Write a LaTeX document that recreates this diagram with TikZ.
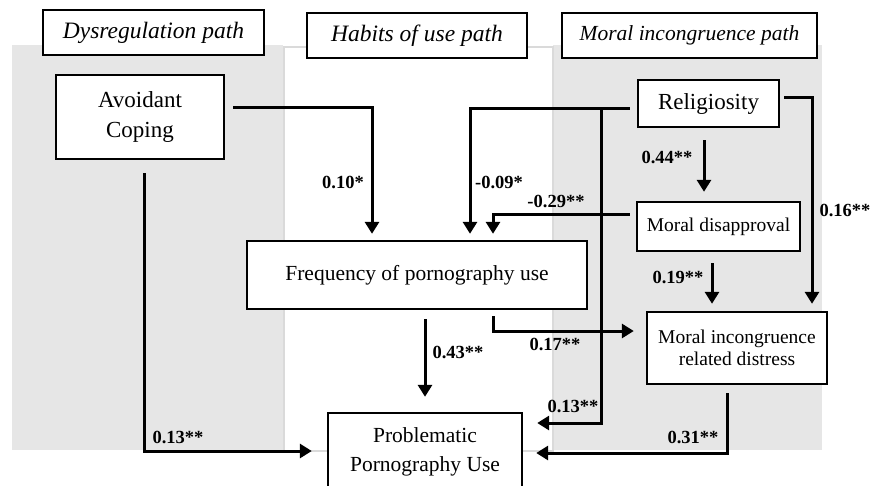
\documentclass[tikz,border=0pt]{standalone}
\usepackage{fontspec}
\setmainfont{Liberation Serif}
\usetikzlibrary{arrows.meta}
\definecolor{panelgray}{HTML}{E6E6E6}
\definecolor{panelline}{HTML}{DADADA}
\begin{document}
\begin{tikzpicture}[x=1pt,y=-1pt,
  box/.style={draw, line width=2.4pt, fill=white, align=center, inner sep=0pt},
  hdr/.style={draw, line width=1.6pt, fill=white, inner sep=0pt, minimum height=45pt},
  arr/.style={line width=3pt, -{Triangle[length=12pt,width=14pt]}},
  lbl/.style={font=\bfseries\fontsize{18.5pt}{20pt}\selectfont, inner sep=0pt},
  bigtxt/.style={font=\fontsize{23pt}{30pt}\selectfont},
  midtxt/.style={font=\fontsize{21.5pt}{29pt}\selectfont},
  smalltxt/.style={font=\fontsize{19.5pt}{22pt}\selectfont}]
\clip (0,0) rectangle (870,485);
\fill[white] (0,0) rectangle (870,485);
% panels
\fill[panelgray] (12,45) rectangle (283,450);
\fill[panelgray] (553,45) rectangle (822,450);
\draw[panelline, line width=1.5pt, fill=white] (284,47) rectangle (553,451);
% headers
\node[hdr, minimum width=221, font=\itshape\fontsize{23.5pt}{26pt}\selectfont] (h1) at (153.5,32.5) {Dysregulation path};
\node[hdr, minimum width=220, font=\itshape\fontsize{23.5pt}{26pt}\selectfont] (h2) at (417,35.5) {Habits of use path};
\node[hdr, minimum width=255, font=\itshape\fontsize{21.5pt}{24pt}\selectfont] (h3) at (689.5,35.5) {Moral incongruence path};
% nodes
\node[box, bigtxt, minimum width=168, minimum height=84] (ac) at (140,117) {Avoidant\\Coping};
\node[box, bigtxt, minimum width=141, minimum height=47] (rel) at (708.5,103.5) {Religiosity};
\node[box, smalltxt, minimum width=163, minimum height=49] (md) at (718.5,226.5) {Moral disapproval};
\node[box, midtxt, minimum width=340, minimum height=68] (freq) at (417,275) {Frequency of pornography use};
\node[box, smalltxt, minimum width=180, minimum height=72] (mird) at (737,348) {Moral incongruence\\related distress};
\node[box, midtxt, minimum width=194, minimum height=78] (ppu) at (425,452) {Problematic\\Pornography Use};
% connectors
\draw[arr] ([shift={(8pt,10pt)}]ac.east) -| ([shift={(-45pt,6pt)}]freq.north);
\draw[arr] ([shift={(4pt,-13pt)}]ac.south) |- ([shift={(-15pt,1pt)}]ppu.west);
\draw[arr] ([shift={(-7pt,-4.5pt)}]rel.west) -| ([shift={(53pt,6pt)}]freq.north);
\draw[arr] ([shift={(-7pt,-4.5pt)}]rel.west) -- ++(-28pt,0pt) |- ([shift={(14pt,29pt)}]ppu.east);
\draw[arr] ([shift={(-6pt,12.5pt)}]md.west) -| ([shift={(76pt,6pt)}]freq.north);
\draw[arr] ([shift={(-4.5pt,-12pt)}]rel.south) -- ([shift={(-14.5pt,9pt)}]md.north);
\draw[arr] ([shift={(4pt,6.5pt)}]rel.east) -| ([shift={(75pt,7pt)}]mird.north);
\draw[arr] ([shift={(-6.5pt,-11pt)}]md.south) -- ([shift={(-25pt,7pt)}]mird.north);
\draw[arr] ([shift={(76pt,-6pt)}]freq.south) |- ([shift={(-12pt,17pt)}]mird.west);
\draw[arr] ([shift={(8pt,-9pt)}]freq.south) -- ([shift={(0pt,15pt)}]ppu.north);
\draw[arr] ([shift={(-10pt,-8pt)}]mird.south) |- ([shift={(13pt,-1pt)}]ppu.east);
% labels
\node[lbl] (l1) at (343,182) {0.10*};
\node[lbl] (l2) at (499,182) {-0.09*};
\node[lbl] (l3) at (556,201) {-0.29**};
\node[lbl] (l4) at (667,157) {0.44**};
\node[lbl] (l5) at (845,210) {0.16**};
\node[lbl] (l6) at (678,277) {0.19**};
\node[lbl] (l7) at (555,344) {0.17**};
\node[lbl] (l8) at (458,352) {0.43**};
\node[lbl] (l9) at (573,406) {0.13**};
\node[lbl] (l10) at (693,437) {0.31**};
\node[lbl] (l11) at (178,437) {0.13**};
\end{tikzpicture}
\end{document}
